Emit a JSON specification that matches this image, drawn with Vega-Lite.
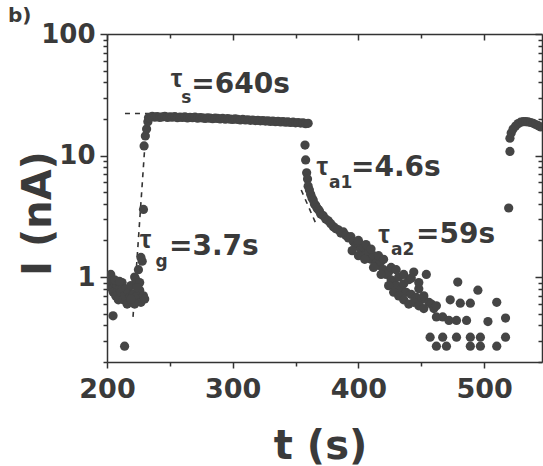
{
  "$schema": "https://vega.github.io/schema/vega-lite/v6.json",
  "width": 435,
  "height": 328,
  "autosize": "none",
  "padding": {"left": 107, "top": 34, "right": 1, "bottom": 104},
  "background": "white",
  "config": {
    "view": {"stroke": null},
    "axis": {"grid": false, "domainColor": "#333333", "domainWidth": 1.5, "tickColor": "#333333", "tickWidth": 1.5, "labelFont": "DejaVu Sans", "labelFontWeight": "bold", "labelColor": "#3a3a3a", "titleFont": "DejaVu Sans", "titleFontWeight": "bold", "titleColor": "#3a3a3a", "labelFlush": false}
  },
  "datasets": {
    "pts": [
      {"t": 201, "I": 1.0}, {"t": 202, "I": 0.85}, {"t": 203, "I": 0.95}, {"t": 204, "I": 0.8}, {"t": 205, "I": 0.75}, {"t": 206, "I": 0.9}, {"t": 207, "I": 0.7}, {"t": 208, "I": 0.85}, {"t": 209, "I": 0.65}, {"t": 210, "I": 0.8}, {"t": 211, "I": 0.75}, {"t": 212, "I": 0.9}, {"t": 213, "I": 0.65}, {"t": 214, "I": 0.7}, {"t": 215, "I": 0.8}, {"t": 216, "I": 0.6}, {"t": 217, "I": 0.75}, {"t": 218, "I": 0.68}, {"t": 219, "I": 0.85}, {"t": 220, "I": 0.62}, {"t": 221, "I": 0.72}, {"t": 222, "I": 1.0}, {"t": 223, "I": 0.95}, {"t": 224, "I": 0.7}, {"t": 225, "I": 1.15}, {"t": 226, "I": 0.78}, {"t": 227, "I": 0.62}, {"t": 228, "I": 1.35}, {"t": 229, "I": 0.7}, {"t": 204.8, "I": 0.48}, {"t": 214, "I": 0.27}, {"t": 203, "I": 1.05}, {"t": 206, "I": 0.95}, {"t": 222, "I": 0.6}, {"t": 226, "I": 0.9}, {"t": 227, "I": 1.45}, {"t": 230, "I": 0.66}, {"t": 210, "I": 0.92}, {"t": 219, "I": 0.66}, {"t": 224, "I": 0.82},
      {"t": 229, "I": 3.6}, {"t": 229.5, "I": 12.0}, {"t": 230.5, "I": 14.5}, {"t": 231.5, "I": 16.5}, {"t": 232.5, "I": 19.0}, {"t": 233, "I": 20.5},
      {"t": 234, "I": 20.5}, {"t": 236, "I": 21.0}, {"t": 238, "I": 20.7}, {"t": 240, "I": 20.9}, {"t": 242, "I": 20.6}, {"t": 244, "I": 20.8}, {"t": 246, "I": 21.0}, {"t": 248, "I": 20.6}, {"t": 250, "I": 20.8}, {"t": 252, "I": 20.7}, {"t": 254, "I": 20.9}, {"t": 256, "I": 20.5}, {"t": 258, "I": 20.7}, {"t": 260, "I": 20.6}, {"t": 262, "I": 20.8}, {"t": 264, "I": 20.4}, {"t": 266, "I": 20.6}, {"t": 268, "I": 20.5}, {"t": 270, "I": 20.7}, {"t": 272, "I": 20.3}, {"t": 274, "I": 20.5}, {"t": 276, "I": 20.4}, {"t": 278, "I": 20.2}, {"t": 280, "I": 20.4}, {"t": 282, "I": 20.3}, {"t": 284, "I": 20.1}, {"t": 286, "I": 20.3}, {"t": 288, "I": 20.2}, {"t": 290, "I": 20.0}, {"t": 292, "I": 20.2}, {"t": 294, "I": 19.9}, {"t": 296, "I": 20.1}, {"t": 298, "I": 19.9}, {"t": 300, "I": 19.8}, {"t": 302, "I": 20.0}, {"t": 304, "I": 19.8}, {"t": 306, "I": 19.6}, {"t": 308, "I": 19.8}, {"t": 310, "I": 19.6}, {"t": 312, "I": 19.7}, {"t": 314, "I": 19.5}, {"t": 316, "I": 19.6}, {"t": 318, "I": 19.4}, {"t": 320, "I": 19.5}, {"t": 322, "I": 19.3}, {"t": 324, "I": 19.4}, {"t": 326, "I": 19.2}, {"t": 328, "I": 19.3}, {"t": 330, "I": 19.1}, {"t": 332, "I": 19.2}, {"t": 334, "I": 19.0}, {"t": 336, "I": 19.1}, {"t": 338, "I": 18.9}, {"t": 340, "I": 19.0}, {"t": 342, "I": 18.8}, {"t": 344, "I": 18.9}, {"t": 346, "I": 18.7}, {"t": 348, "I": 18.8}, {"t": 350, "I": 18.6}, {"t": 352, "I": 18.7}, {"t": 354, "I": 18.5}, {"t": 356, "I": 18.6}, {"t": 358, "I": 18.3}, {"t": 360, "I": 18.4},
      {"t": 357.5, "I": 12.2}, {"t": 358, "I": 9.2}, {"t": 358.8, "I": 7.2}, {"t": 359.5, "I": 6.4}, {"t": 360, "I": 5.6}, {"t": 361, "I": 5.2}, {"t": 362, "I": 4.8}, {"t": 363, "I": 4.5}, {"t": 364, "I": 4.3}, {"t": 365, "I": 4.0}, {"t": 366, "I": 3.9}, {"t": 367, "I": 3.7}, {"t": 368, "I": 3.6}, {"t": 369, "I": 3.5}, {"t": 370, "I": 3.3}, {"t": 372, "I": 3.2}, {"t": 374, "I": 3.0}, {"t": 376, "I": 2.9}, {"t": 378, "I": 2.75}, {"t": 380, "I": 2.6}, {"t": 382, "I": 2.5}, {"t": 384, "I": 2.45}, {"t": 386, "I": 2.3}, {"t": 388, "I": 2.35}, {"t": 390, "I": 2.2}, {"t": 392, "I": 2.1}, {"t": 394, "I": 2.15}, {"t": 396, "I": 1.95}, {"t": 398, "I": 1.8}, {"t": 400, "I": 1.9}, {"t": 402, "I": 1.7}, {"t": 404, "I": 1.75}, {"t": 406, "I": 1.55}, {"t": 408, "I": 1.6}, {"t": 410, "I": 1.4}, {"t": 412, "I": 1.5}, {"t": 414, "I": 1.3}, {"t": 416, "I": 1.25}, {"t": 418, "I": 1.35}, {"t": 420, "I": 1.15}, {"t": 422, "I": 1.05}, {"t": 424, "I": 1.1}, {"t": 426, "I": 0.95}, {"t": 428, "I": 0.9}, {"t": 430, "I": 0.85}, {"t": 432, "I": 1.0}, {"t": 434, "I": 0.8}, {"t": 436, "I": 0.88}, {"t": 438, "I": 0.75}, {"t": 440, "I": 0.95}, {"t": 442, "I": 0.72}, {"t": 444, "I": 1.1}, {"t": 446, "I": 0.68}, {"t": 448, "I": 0.8}, {"t": 450, "I": 0.65}, {"t": 452, "I": 0.7}, {"t": 454, "I": 1.05}, {"t": 456, "I": 0.62}, {"t": 458, "I": 0.6}, {"t": 460, "I": 0.55}, {"t": 462, "I": 0.58},
      {"t": 395, "I": 1.65}, {"t": 400, "I": 1.5}, {"t": 405, "I": 1.4}, {"t": 412, "I": 1.2}, {"t": 418, "I": 1.05}, {"t": 424, "I": 0.85}, {"t": 428, "I": 0.75}, {"t": 432, "I": 0.7}, {"t": 436, "I": 0.65}, {"t": 440, "I": 0.6}, {"t": 444, "I": 0.62}, {"t": 448, "I": 0.58}, {"t": 452, "I": 0.55},
      {"t": 400, "I": 2.0}, {"t": 406, "I": 1.85}, {"t": 410, "I": 1.7}, {"t": 416, "I": 1.5}, {"t": 420, "I": 1.4}, {"t": 426, "I": 1.2}, {"t": 430, "I": 1.15}, {"t": 436, "I": 1.05}, {"t": 442, "I": 0.98}, {"t": 448, "I": 0.9},
      {"t": 479, "I": 0.91}, {"t": 495, "I": 0.78}, {"t": 510, "I": 0.62}, {"t": 517, "I": 0.46}, {"t": 517, "I": 0.32}, {"t": 510, "I": 0.27}, {"t": 503, "I": 0.43}, {"t": 489, "I": 0.61}, {"t": 481, "I": 0.61}, {"t": 473, "I": 0.65}, {"t": 467, "I": 0.47}, {"t": 478, "I": 0.44}, {"t": 486, "I": 0.44}, {"t": 457, "I": 0.32}, {"t": 467, "I": 0.32}, {"t": 478, "I": 0.32}, {"t": 489, "I": 0.32}, {"t": 497, "I": 0.32}, {"t": 462, "I": 0.27}, {"t": 470, "I": 0.27}, {"t": 489, "I": 0.27}, {"t": 497, "I": 0.27}, {"t": 472, "I": 0.44}, {"t": 462, "I": 0.47},
      {"t": 519.5, "I": 3.7}, {"t": 520.5, "I": 10.8}, {"t": 520.5, "I": 13.9}, {"t": 521.5, "I": 15.3}, {"t": 523, "I": 16.5}, {"t": 525, "I": 17.5}, {"t": 527, "I": 18.3}, {"t": 529, "I": 18.8}, {"t": 531, "I": 19.0}, {"t": 533, "I": 19.0}, {"t": 535, "I": 18.9}, {"t": 537, "I": 18.7}, {"t": 539, "I": 18.4}, {"t": 541, "I": 18.0}, {"t": 543, "I": 17.6}, {"t": 545, "I": 17.2}
    ],
    "fits": [
      {"seg": "rise", "t": 220.7, "I": 0.47}, {"seg": "rise", "t": 231.8, "I": 21.5},
      {"seg": "sat", "t": 214.3, "I": 22.2}, {"seg": "sat", "t": 240, "I": 22.2},
      {"seg": "decay", "t": 354.5, "I": 5.2}, {"seg": "decay", "t": 366.5, "I": 2.7}
    ],
    "notes": [
      {"kind": "tau", "label": "τ", "t": 250.8, "I": 36.5},
      {"kind": "sub", "label": "s", "t": 259, "I": 27.0},
      {"kind": "main", "label": "=640s", "t": 267, "I": 32.7},
      {"kind": "tau", "label": "τ", "t": 226, "I": 1.73},
      {"kind": "sub", "label": "g", "t": 238.5, "I": 1.21},
      {"kind": "main", "label": "=3.7s", "t": 249.3, "I": 1.52},
      {"kind": "tau", "label": "τ", "t": 366.6, "I": 6.91},
      {"kind": "sub", "label": "a1", "t": 376.6, "I": 5.4},
      {"kind": "main", "label": "=4.6s", "t": 394.1, "I": 6.78},
      {"kind": "tau", "label": "τ", "t": 415.8, "I": 1.9},
      {"kind": "sub", "label": "a2", "t": 425.9, "I": 1.52},
      {"kind": "main", "label": "=59s", "t": 445.8, "I": 1.9},
      {"kind": "panel", "label": "b)", "t": 121.3, "I": 125}
    ]
  },
  "resolve": {"axis": {"x": "independent", "y": "independent"}},
  "layer": [
    {
      "data": {"name": "fits"},
      "mark": {"type": "line", "color": "#333333", "strokeWidth": 1.6, "strokeDash": [5, 5]},
      "encoding": {
        "x": {"field": "t", "type": "quantitative", "scale": {"domain": [200, 546], "nice": false, "zero": false},
          "axis": {"orient": "top", "values": [200, 250, 300, 350, 400, 450, 500], "labels": false, "title": null,
            "tickSize": {"condition": {"test": "datum.value % 100 == 0", "value": -6}, "value": -4}}},
        "y": {"field": "I", "type": "quantitative", "scale": {"type": "log", "domain": [0.2, 100], "nice": false},
          "axis": {"orient": "right", "values": [0.2, 0.3, 0.4, 0.5, 0.6, 0.7, 0.8, 0.9, 1, 2, 3, 4, 5, 6, 7, 8, 9, 10, 20, 30, 40, 50, 60, 70, 80, 90, 100], "labels": false, "title": null,
            "tickSize": {"condition": {"test": "datum.value == 1 || datum.value == 10 || datum.value == 100", "value": -7}, "value": -4}}},
        "detail": {"field": "seg"}
      }
    },
    {
      "data": {"name": "pts"},
      "mark": {"type": "circle", "size": 85, "color": "#454545", "opacity": 1, "clip": true},
      "encoding": {
        "x": {"field": "t", "type": "quantitative",
          "axis": {"orient": "bottom", "values": [200, 250, 300, 350, 400, 450, 500], "format": "d",
            "labelExpr": "datum.value % 100 == 0 ? datum.label : ''", "labelFontSize": 27, "labelPadding": 8,
            "tickSize": {"condition": {"test": "datum.value % 100 == 0", "value": 6}, "value": 4},
            "title": "t (s)", "titleFontSize": 40, "titleX": 213, "titleY": 96, "titleAlign": "center", "titleBaseline": "alphabetic"}},
        "y": {"field": "I", "type": "quantitative",
          "axis": {"orient": "left", "values": [0.2, 0.3, 0.4, 0.5, 0.6, 0.7, 0.8, 0.9, 1, 2, 3, 4, 5, 6, 7, 8, 9, 10, 20, 30, 40, 50, 60, 70, 80, 90, 100],
            "labelExpr": "datum.value == 1 ? '1' : datum.value == 10 ? '10' : datum.value == 100 ? '100' : ''", "labelFontSize": 26, "labelPadding": 5,
            "tickSize": {"condition": {"test": "datum.value == 1 || datum.value == 10 || datum.value == 100", "value": 7}, "value": 4},
            "title": "I (nA)", "titleFontSize": 40, "titleAngle": -90, "titleX": -57, "titleY": 179, "titleAlign": "center", "titleBaseline": "alphabetic"}}
      }
    },
    {
      "data": {"name": "notes"},
      "transform": [{"filter": "datum.kind == 'main'"}],
      "mark": {"type": "text", "align": "left", "baseline": "alphabetic", "font": "DejaVu Sans", "fontWeight": "bold", "fontSize": 28, "color": "#3a3a3a"},
      "encoding": {
        "x": {"field": "t", "type": "quantitative", "axis": null},
        "y": {"field": "I", "type": "quantitative", "axis": null},
        "text": {"field": "label"}
      }
    },
    {
      "data": {"name": "notes"},
      "transform": [{"filter": "datum.kind == 'tau'"}],
      "mark": {"type": "text", "align": "left", "baseline": "alphabetic", "font": "Liberation Sans", "fontWeight": "bold", "fontSize": 26, "color": "#3a3a3a"},
      "encoding": {
        "x": {"field": "t", "type": "quantitative", "axis": null},
        "y": {"field": "I", "type": "quantitative", "axis": null},
        "text": {"field": "label"}
      }
    },
    {
      "data": {"name": "notes"},
      "transform": [{"filter": "datum.kind == 'sub'"}],
      "mark": {"type": "text", "align": "left", "baseline": "alphabetic", "font": "DejaVu Sans", "fontWeight": "bold", "fontSize": 17, "color": "#3a3a3a"},
      "encoding": {
        "x": {"field": "t", "type": "quantitative", "axis": null},
        "y": {"field": "I", "type": "quantitative", "axis": null},
        "text": {"field": "label"}
      }
    },
    {
      "data": {"name": "notes"},
      "transform": [{"filter": "datum.kind == 'panel'"}],
      "mark": {"type": "text", "align": "left", "baseline": "alphabetic", "font": "DejaVu Sans", "fontWeight": "bold", "fontSize": 20, "color": "#3a3a3a"},
      "encoding": {
        "x": {"field": "t", "type": "quantitative", "axis": null},
        "y": {"field": "I", "type": "quantitative", "axis": null},
        "text": {"field": "label"}
      }
    }
  ]
}
